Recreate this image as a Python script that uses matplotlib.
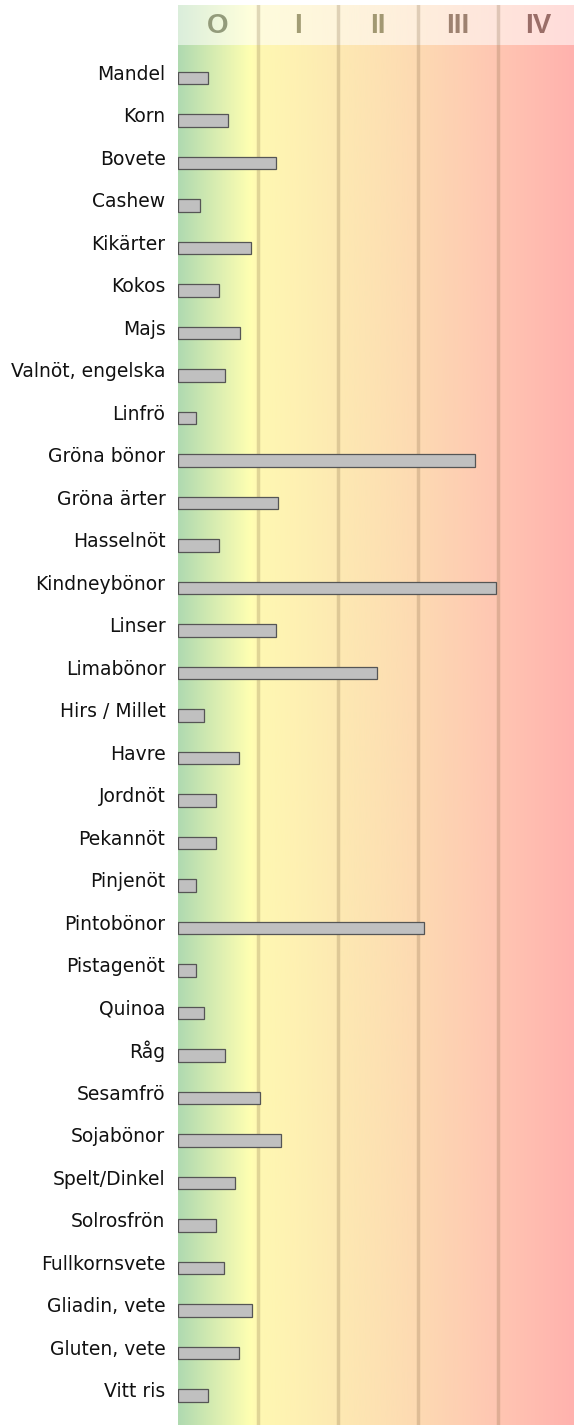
import numpy as np
import matplotlib
matplotlib.use("Agg")
import matplotlib.pyplot as plt
from matplotlib.colors import LinearSegmentedColormap

categories = ["Mandel", "Korn", "Bovete", "Cashew", "Kikärter", "Kokos", "Majs",
              "Valnöt, engelska", "Linfrö", "Gröna bönor", "Gröna ärter", "Hasselnöt",
              "Kindneybönor", "Linser", "Limabönor", "Hirs / Millet", "Havre", "Jordnöt",
              "Pekannöt", "Pinjenöt", "Pintobönor", "Pistagenöt", "Quinoa", "Råg",
              "Sesamfrö", "Sojabönor", "Spelt/Dinkel", "Solrosfrön", "Fullkornsvete",
              "Gliadin, vete", "Gluten, vete", "Vitt ris"]
values = [0.37, 0.62, 1.22, 0.27, 0.91, 0.51, 0.77, 0.59, 0.22, 3.71, 1.25, 0.51,
          3.97, 1.22, 2.49, 0.32, 0.76, 0.48, 0.48, 0.22, 3.07, 0.22, 0.32, 0.59,
          1.03, 1.29, 0.71, 0.47, 0.57, 0.93, 0.76, 0.37]
class_labels = ["O", "I", "II", "III", "IV"]
class_colors = ["#939b7b", "#a29c74", "#a29872", "#9e8270", "#9a6e68"]

W, H, DPI = 574, 1425, 100
fig = plt.figure(figsize=(W / DPI, H / DPI), dpi=DPI)
left_px, top_px = 178, 5
ax = fig.add_axes([left_px / W, 0, 1 - left_px / W, (H - top_px) / H])

row_px = 42.5
first_px = 78
y_top = (top_px - first_px) / row_px
y_bot = (H - first_px) / row_px
x_max = (W - left_px) / 80.0

# background gradient
stops = [(0.0, "#b0dab0"), (0.9 / x_max, "#ffffb2"), (1.0 / x_max, "#fff8b2"),
         (2.0 / x_max, "#fde9b2"), (3.0 / x_max, "#fddab2"), (4.0 / x_max, "#ffc6b2"),
         (1.0, "#ffb2ae")]
cmap = LinearSegmentedColormap.from_list("bg", stops)
grad = np.linspace(0, 1, 600).reshape(1, -1)
ax.imshow(grad, cmap=cmap, aspect="auto", extent=[0, x_max, y_bot, y_top],
          zorder=0, interpolation="bilinear")

# header overlay
hdr_bot = (45 - first_px) / row_px
ax.fill_between([0, x_max], y_top, hdr_bot, color="white", alpha=0.55, zorder=1, lw=0)

# class boundary lines
for xv in range(1, 5):
    ax.axvline(xv, color=(0.45, 0.35, 0.2, 0.22), lw=2.5, zorder=2)

# header numerals
hdr_mid = (26 - first_px) / row_px
for i, (lab, col) in enumerate(zip(class_labels, class_colors)):
    ax.text(i + 0.5, hdr_mid, lab, ha="center", va="center", fontsize=20,
            fontweight="bold", family="Liberation Sans", color=col, zorder=3)

y = np.arange(len(categories))
ax.barh(y, values, height=0.3, left=0, color="#c0c0c0", edgecolor="#555555",
        linewidth=0.9, zorder=4)

ax.set_xlim(0, x_max)
ax.set_ylim(y_bot, y_top)
ax.set_yticks(y - 0.14)
ax.set_yticklabels(categories, fontsize=13.5, color="#111111")
ax.tick_params(axis="y", length=0, pad=9)
ax.set_xticks([])
for s in ax.spines.values():
    s.set_visible(False)

fig.savefig("out.png", dpi=DPI)
